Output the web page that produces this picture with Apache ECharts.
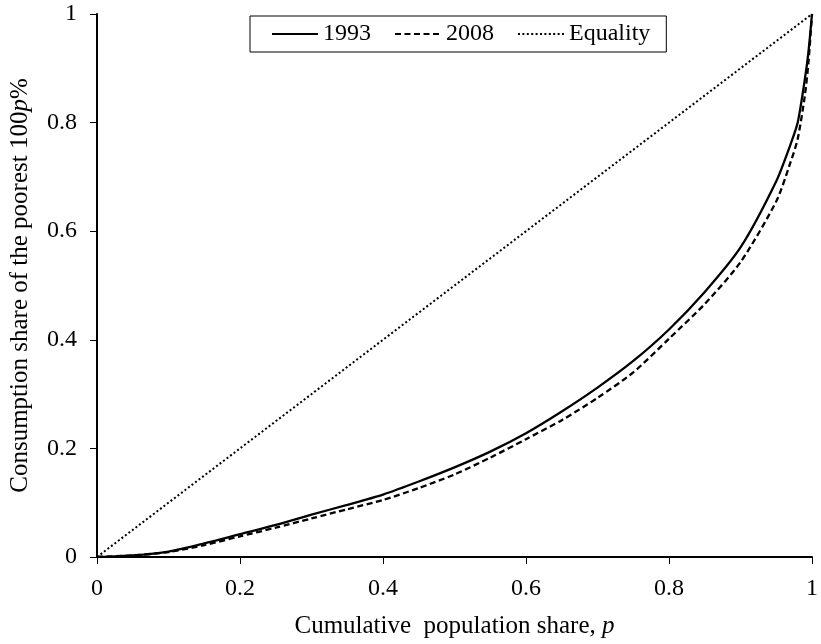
<!DOCTYPE html>
<html>
<head>
<meta charset="utf-8">
<script src="https://cdn.jsdelivr.net/npm/echarts@6/dist/echarts.min.js"></script>
<style>
html,body{margin:0;padding:0;background:#fff;}
#chart{width:821px;height:644px;}
</style>
</head>
<body>
<div id="chart"></div>
<script>
var shares = [0, 0.05, 0.1, 0.15, 0.2, 0.25, 0.3, 0.35, 0.4, 0.45, 0.5, 0.55, 0.6, 0.65, 0.7, 0.75, 0.8, 0.85, 0.9, 0.95, 0.97, 0.98, 0.99, 0.995, 1];
var lorenz1993 = [0, 0.003, 0.010, 0.025, 0.042, 0.059, 0.078, 0.096, 0.115, 0.139, 0.165, 0.194, 0.228, 0.268, 0.312, 0.361, 0.419, 0.488, 0.570, 0.692, 0.760, 0.800, 0.880, 0.930, 1];
var lorenz2008 = [0, 0.003, 0.009, 0.022, 0.038, 0.054, 0.071, 0.088, 0.105, 0.127, 0.152, 0.183, 0.217, 0.252, 0.293, 0.340, 0.402, 0.466, 0.543, 0.655, 0.727, 0.770, 0.850, 0.910, 1];
var equalityX = [0, 1];
var equalityY = [0, 1];
var seriesNames = ['1993', '2008', 'Equality'];

function pairs(xs, ys) { return xs.map(function (x, i) { return [x, ys[i]]; }); }

var FONT = '"Liberation Serif", "Times New Roman", serif';
var chart = echarts.init(document.getElementById('chart'), null, {renderer: 'canvas'});
chart.setOption({
  backgroundColor: '#ffffff',
  animation: false,
  textStyle: {fontFamily: FONT, color: '#000'},
  grid: {left: 95, right: 6, top: 14, bottom: 80, containLabel: false},
  legend: {
    data: seriesNames,
    left: 250, top: 16,
    orient: 'horizontal',
    itemWidth: 46, itemHeight: 14, itemGap: 23,
    padding: [6, 16, 6, 21],
    borderColor: '#000', borderWidth: 1,
    backgroundColor: '#fff',
    itemStyle: {opacity: 0},
    textStyle: {fontFamily: FONT, fontSize: 24, color: '#000'}
  },
  xAxis: {
    type: 'value', min: 0, max: 1, interval: 0.2,
    name: '{a|Cumulative  population share, }{i|p}',
    nameLocation: 'middle', nameGap: 57,
    nameTextStyle: {rich: {
      a: {fontFamily: FONT, fontSize: 25, color: '#000'},
      i: {fontFamily: FONT, fontSize: 25, fontStyle: 'italic', color: '#000'}
    }},
    splitLine: {show: false},
    axisLine: {show: true, onZero: false, lineStyle: {color: '#000', width: 2}},
    axisTick: {show: true, inside: false, length: 7, lineStyle: {color: '#000', width: 1}},
    axisLabel: {fontFamily: FONT, fontSize: 24, color: '#000', margin: 20}
  },
  yAxis: {
    type: 'value', min: 0, max: 1, interval: 0.2,
    name: '{a|Consumption share of the poorest 100}{i|p}{a|%}',
    nameLocation: 'middle', nameGap: 64, nameRotate: 90,
    nameTextStyle: {rich: {
      a: {fontFamily: FONT, fontSize: 25, color: '#000'},
      i: {fontFamily: FONT, fontSize: 25, fontStyle: 'italic', color: '#000'}
    }},
    splitLine: {show: false},
    axisLine: {show: true, onZero: false, lineStyle: {color: '#000', width: 2}},
    axisTick: {show: true, inside: false, length: 7, lineStyle: {color: '#000', width: 1}},
    axisLabel: {fontFamily: FONT, fontSize: 24, color: '#000', margin: 20,
      formatter: function (v) { return String(Math.round(v * 10) / 10); }}
  },
  series: [
    {name: seriesNames[0], type: 'line', data: pairs(shares, lorenz1993), showSymbol: false, symbol: 'none',
     smooth: 0.25,
     lineStyle: {color: '#000', width: 2.3, type: 'solid'}, itemStyle: {color: '#000'}},
    {name: seriesNames[1], type: 'line', data: pairs(shares, lorenz2008), showSymbol: false, symbol: 'none',
     smooth: 0.25,
     lineStyle: {color: '#000', width: 2.3, type: [6, 3.5]}, itemStyle: {color: '#000'}},
    {name: seriesNames[2], type: 'line', data: pairs(equalityX, equalityY), showSymbol: false, symbol: 'none',
     lineStyle: {color: '#000', width: 2, type: [2, 2.4]}, itemStyle: {color: '#000'}}
  ]
});
</script>
</body>
</html>
